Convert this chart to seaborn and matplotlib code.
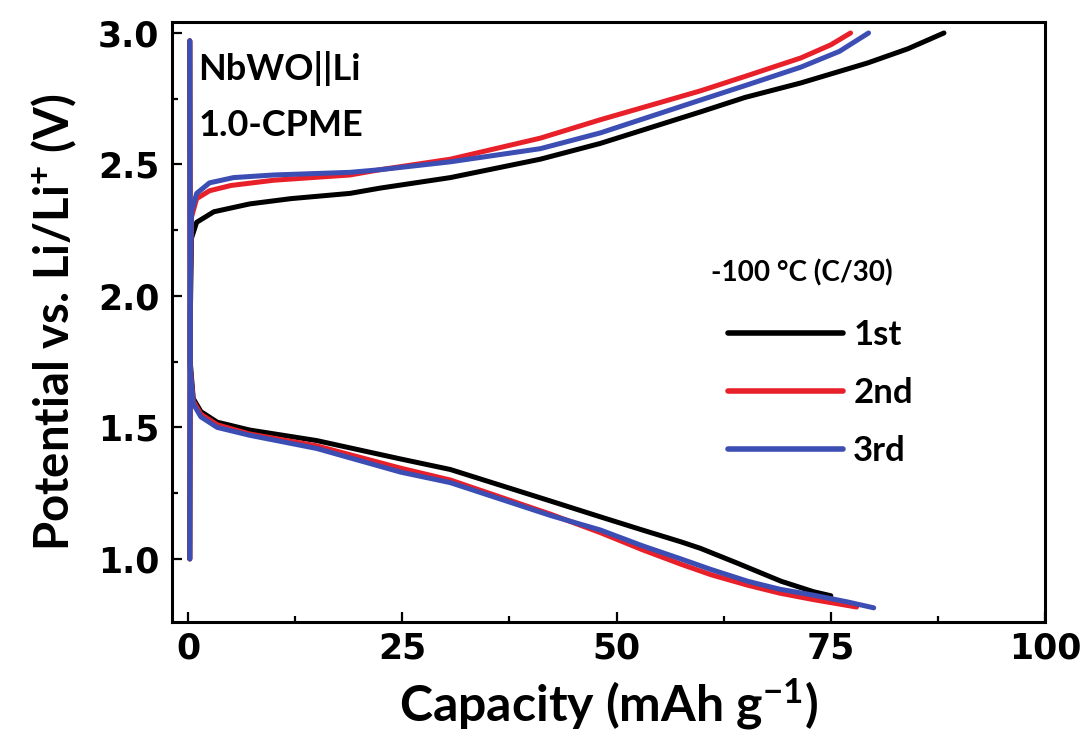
import numpy as np
import pandas as pd
import matplotlib
matplotlib.use('Agg')
import matplotlib.pyplot as plt
from matplotlib.ticker import MultipleLocator
import seaborn as sns

# cycles and colours
cycles = ['1st', '2nd', '3rd']
colors = ['#000000', '#e8202a', '#3c4db3']
legend_title = '-100 °C (C/30)'

# discharge branches (capacity in mAh/g, potential in V)
dis_x_1 = [0.2, 0.25, 0.6, 1.5, 3.4, 7.2, 15, 24.8, 30.6, 42.3, 48.1, 53, 57.5, 59.8, 64, 69.2, 73, 75]
dis_y_1 = [2.97, 1.75, 1.61, 1.56, 1.52, 1.49, 1.45, 1.38, 1.34, 1.22, 1.16, 1.11, 1.065, 1.04, 0.985, 0.915, 0.875, 0.86]
dis_x_2 = [0.2, 0.25, 0.6, 1.5, 3.4, 7.2, 15, 24.8, 30.6, 42.3, 48.1, 53, 57.5, 61, 65.3, 69, 73, 78]
dis_y_2 = [2.97, 1.73, 1.60, 1.55, 1.51, 1.475, 1.43, 1.345, 1.30, 1.17, 1.10, 1.035, 0.98, 0.94, 0.90, 0.87, 0.845, 0.817]
dis_x_3 = [0.2, 0.25, 0.6, 1.5, 3.4, 7.2, 15, 24.8, 30.6, 42.3, 48.1, 53, 57.5, 61, 65.3, 69, 73, 77, 80]
dis_y_3 = [2.97, 1.72, 1.59, 1.54, 1.50, 1.47, 1.42, 1.33, 1.29, 1.165, 1.11, 1.05, 1.00, 0.96, 0.915, 0.885, 0.862, 0.836, 0.814]

# charge branches
chg_x_1 = [0.2, 0.25, 0.4, 1.0, 3, 7.2, 12, 18.9, 22.4, 30.6, 41.1, 48.1, 59.8, 65, 71.5, 79.3, 84, 88.2]
chg_y_1 = [1.0, 1.9, 2.22, 2.28, 2.32, 2.35, 2.37, 2.39, 2.41, 2.45, 2.52, 2.58, 2.70, 2.755, 2.81, 2.886, 2.94, 3.0]
chg_x_2 = [0.2, 0.25, 0.4, 1.0, 2.5, 5, 10, 18.9, 22.4, 30.6, 41.1, 48.1, 59.8, 65, 71.5, 75, 77.3]
chg_y_2 = [1.0, 2.0, 2.30, 2.37, 2.40, 2.42, 2.44, 2.46, 2.48, 2.52, 2.60, 2.67, 2.78, 2.835, 2.905, 2.955, 3.0]
chg_x_3 = [0.2, 0.25, 0.4, 1.0, 2.5, 5.3, 10, 18.9, 22.4, 30.6, 41.1, 48.1, 59.8, 65, 71.5, 76, 79.4]
chg_y_3 = [1.0, 2.05, 2.32, 2.39, 2.43, 2.45, 2.46, 2.47, 2.48, 2.51, 2.56, 2.62, 2.745, 2.80, 2.87, 2.93, 3.0]

branches = {
    ('1st', 'dis'): (dis_x_1, dis_y_1), ('1st', 'chg'): (chg_x_1, chg_y_1),
    ('2nd', 'dis'): (dis_x_2, dis_y_2), ('2nd', 'chg'): (chg_x_2, chg_y_2),
    ('3rd', 'dis'): (dis_x_3, dis_y_3), ('3rd', 'chg'): (chg_x_3, chg_y_3),
}
rows = []
for (cyc, br), (xs, ys) in branches.items():
    for x, y in zip(xs, ys):
        rows.append({'capacity': x, 'potential': y, 'cycle': cyc, 'branch': br})
df = pd.DataFrame(rows)

sns.set_theme(style='ticks')
plt.rcParams['font.family'] = ['Lato', 'DejaVu Sans']
plt.rcParams['font.weight'] = 'bold'
plt.rcParams['mathtext.default'] = 'regular'
for k in ['text.color', 'axes.labelcolor', 'xtick.color', 'ytick.color', 'axes.edgecolor']:
    plt.rcParams[k] = 'black'

fig = plt.figure(figsize=(10.89, 7.43), dpi=100)
ax = fig.add_axes([0.158, 0.163, 0.8017, 0.8075])

sns.lineplot(data=df, x='capacity', y='potential', hue='cycle', units='branch',
             estimator=None, sort=False, palette=dict(zip(cycles, colors)),
             hue_order=cycles, lw=3.6, ax=ax)

ax.set_xlim(-1.87, 100)
ax.set_ylim(0.7605, 3.042)
ax.xaxis.set_major_locator(MultipleLocator(25))
ax.xaxis.set_minor_locator(MultipleLocator(12.5))
ax.yaxis.set_major_locator(MultipleLocator(0.5))
ax.yaxis.set_minor_locator(MultipleLocator(0.25))
ax.tick_params(which='both', direction='in', width=1.6, colors='black')
ax.tick_params(which='major', length=7)
ax.tick_params(which='minor', length=4)
ax.tick_params(axis='x', pad=7)
ax.tick_params(axis='y', pad=9)
for lab in ax.get_xticklabels() + ax.get_yticklabels():
    lab.set_fontfamily('DejaVu Sans')
    lab.set_fontweight('bold')
    lab.set_fontsize(25)
for sp in ax.spines.values():
    sp.set_linewidth(2.2)
    sp.set_color('black')

ax.set_xlabel(r'Capacity (mAh g$^{-1}$)', fontsize=36, fontweight='bold', labelpad=8)
ax.set_ylabel(r'Potential vs. Li/Li$^{+}$ (V)', fontsize=34, fontweight='bold', labelpad=14)

ax.text(1.2, 2.82, 'NbWO||Li', fontsize=26, fontweight='bold')
ax.text(1.2, 2.61, '1.0-CPME', fontsize=26, fontweight='bold')

ax.text(0.617, 0.582, legend_title, transform=ax.transAxes, fontsize=20,
        fontweight='bold', va='center', ha='left')
leg = ax.legend(loc='center left', bbox_to_anchor=(0.637, 0.382),
                frameon=False, fontsize=25,
                handlelength=3.3, handletextpad=0.3, labelspacing=0.75,
                borderpad=0, borderaxespad=0)
for t in leg.get_texts():
    t.set_fontweight('bold')
for h in leg.get_lines():
    h.set_linewidth(4)

fig.savefig('out.png', dpi=100)
